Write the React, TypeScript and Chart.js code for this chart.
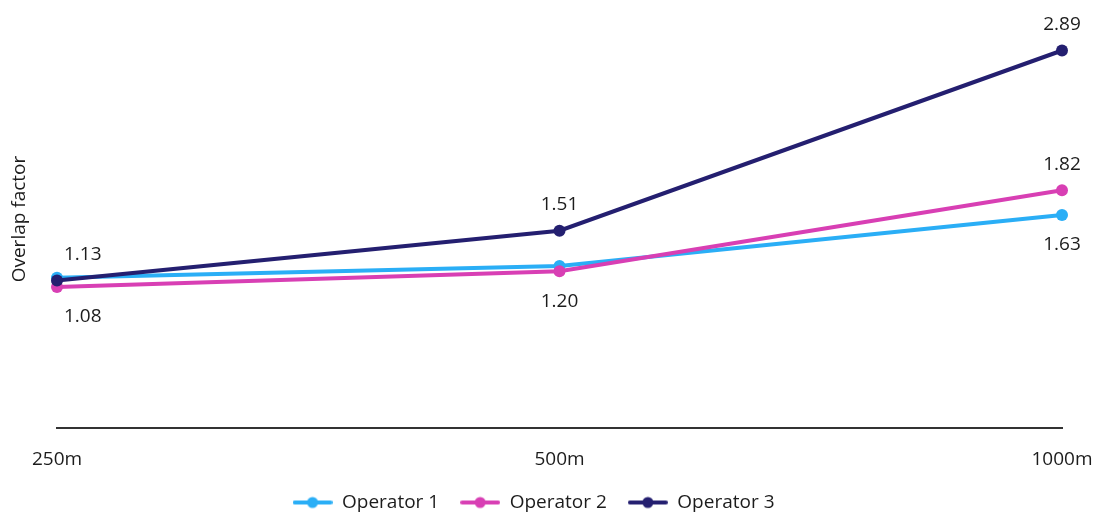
import React, { useEffect, useRef } from "react";
import { Chart, registerables } from "chart.js";

Chart.register(...registerables);

// Distance buckets on the x axis
const distances = ["250m", "500m", "1000m"];

// Overlap factor per operator
const operator1 = [1.15, 1.24, 1.63];
const operator2 = [1.08, 1.2, 1.82];
const operator3 = [1.13, 1.51, 2.89];

// Where each value label sits relative to its point (null = no label)
const operator1Labels = [null, null, "below"];
const operator2Labels = ["below", "below", "above"];
const operator3Labels = ["above", "above", "above"];

const seriesNames = ["Operator 1", "Operator 2", "Operator 3"];
const seriesColors = ["#2AAEF6", "#D83FB4", "#241F70"];

const FONT = "'Open Sans', 'Noto Sans', sans-serif";
const FONT_SIZE = 19;
const FONT_WEIGHT = 400;
const TEXT = "#1c1c1c";

function legendMarker(color: string): HTMLCanvasElement {
  const c = document.createElement("canvas");
  c.width = 40;
  c.height = 14;
  const ctx = c.getContext("2d")!;
  ctx.strokeStyle = color;
  ctx.lineWidth = 4;
  ctx.lineCap = "round";
  ctx.beginPath();
  ctx.moveTo(2, 7);
  ctx.lineTo(38, 7);
  ctx.stroke();
  ctx.fillStyle = color;
  ctx.beginPath();
  ctx.arc(20, 7, 5.5, 0, Math.PI * 2);
  ctx.fill();
  return c;
}

const valueLabels = {
  id: "valueLabels",
  afterDatasetsDraw(chart: any) {
    const placements = [operator1Labels, operator2Labels, operator3Labels];
    const values = [operator1, operator2, operator3];
    const ctx = chart.ctx;
    const area = chart.chartArea;
    ctx.save();
    ctx.font = `${FONT_WEIGHT} ${FONT_SIZE}px ${FONT}`;
    ctx.fillStyle = TEXT;
    ctx.textAlign = "center";
    ctx.textBaseline = "middle";
    placements.forEach((list, di) => {
      const meta = chart.getDatasetMeta(di);
      list.forEach((pos, i) => {
        if (!pos) return;
        const pt = meta.data[i];
        const text = values[di][i].toFixed(2);
        const w = ctx.measureText(text).width;
        const x = Math.max(pt.x, area.left + 7 + w / 2);
        const y = pos === "above" ? pt.y - 26 : pt.y + 30;
        ctx.fillText(text, x, y);
      });
    });
    ctx.restore();
  },
};

export default function App() {
  const ref = useRef<HTMLCanvasElement>(null);

  useEffect(() => {
    const series = [operator1, operator2, operator3];
    const markers = seriesColors.map(legendMarker);
    const font = { family: FONT, size: FONT_SIZE, weight: FONT_WEIGHT };
    const chart = new Chart(ref.current!, {
      type: "line",
      data: {
        labels: distances,
        datasets: series.map((data, i) => ({
          label: seriesNames[i],
          data,
          borderColor: seriesColors[i],
          backgroundColor: seriesColors[i],
          pointBackgroundColor: seriesColors[i],
          borderWidth: 4,
          pointRadius: 6,
          pointBorderWidth: 0,
          tension: 0,
          order: 3 - i,
        })),
      },
      options: {
        responsive: false,
        animation: false,
        layout: { padding: { left: 5, right: 37, top: 10, bottom: 0 } },
        scales: {
          x: {
            offset: false,
            grid: { display: false },
            border: { display: true, color: "#333333", width: 2 },
            ticks: { color: TEXT, font, padding: 12, maxRotation: 0 },
            afterFit: (scale: any) => {
              scale.height = 44;
              scale.paddingLeft = 0;
              scale.paddingRight = 0;
            },
          },
          y: {
            min: 0,
            max: 3.2,
            grid: { display: false },
            border: { display: false },
            ticks: { display: false },
            title: {
              display: true,
              text: "Overlap factor",
              color: TEXT,
              font,
              padding: { top: 3, bottom: 4 },
            },
            afterFit: (scale: any) => {
              scale.width = 52;
            },
          },
        },
        plugins: {
          tooltip: { enabled: false },
          legend: {
            position: "bottom",
            labels: {
              color: TEXT,
              font,
              usePointStyle: true,
              pointStyleWidth: 40,
              padding: 21,
              sort: (a: any, b: any) => a.datasetIndex - b.datasetIndex,
              generateLabels: (c: any) =>
                Chart.defaults.plugins.legend.labels.generateLabels(c).map((item: any) => ({
                  ...item,
                  pointStyle: markers[item.datasetIndex],
                  rotation: 0,
                })),
            },
          },
        },
      },
      plugins: [valueLabels],
    });
    return () => chart.destroy();
  }, []);

  return (
    <div
      style={{
        position: "absolute",
        left: 0,
        top: 0,
        width: 1099,
        height: 515,
        overflow: "hidden",
        background: "#ffffff",
      }}
    >
      <canvas ref={ref} width={1099} height={522} style={{ width: 1099, height: 522, display: "block" }} />
    </div>
  );
}
